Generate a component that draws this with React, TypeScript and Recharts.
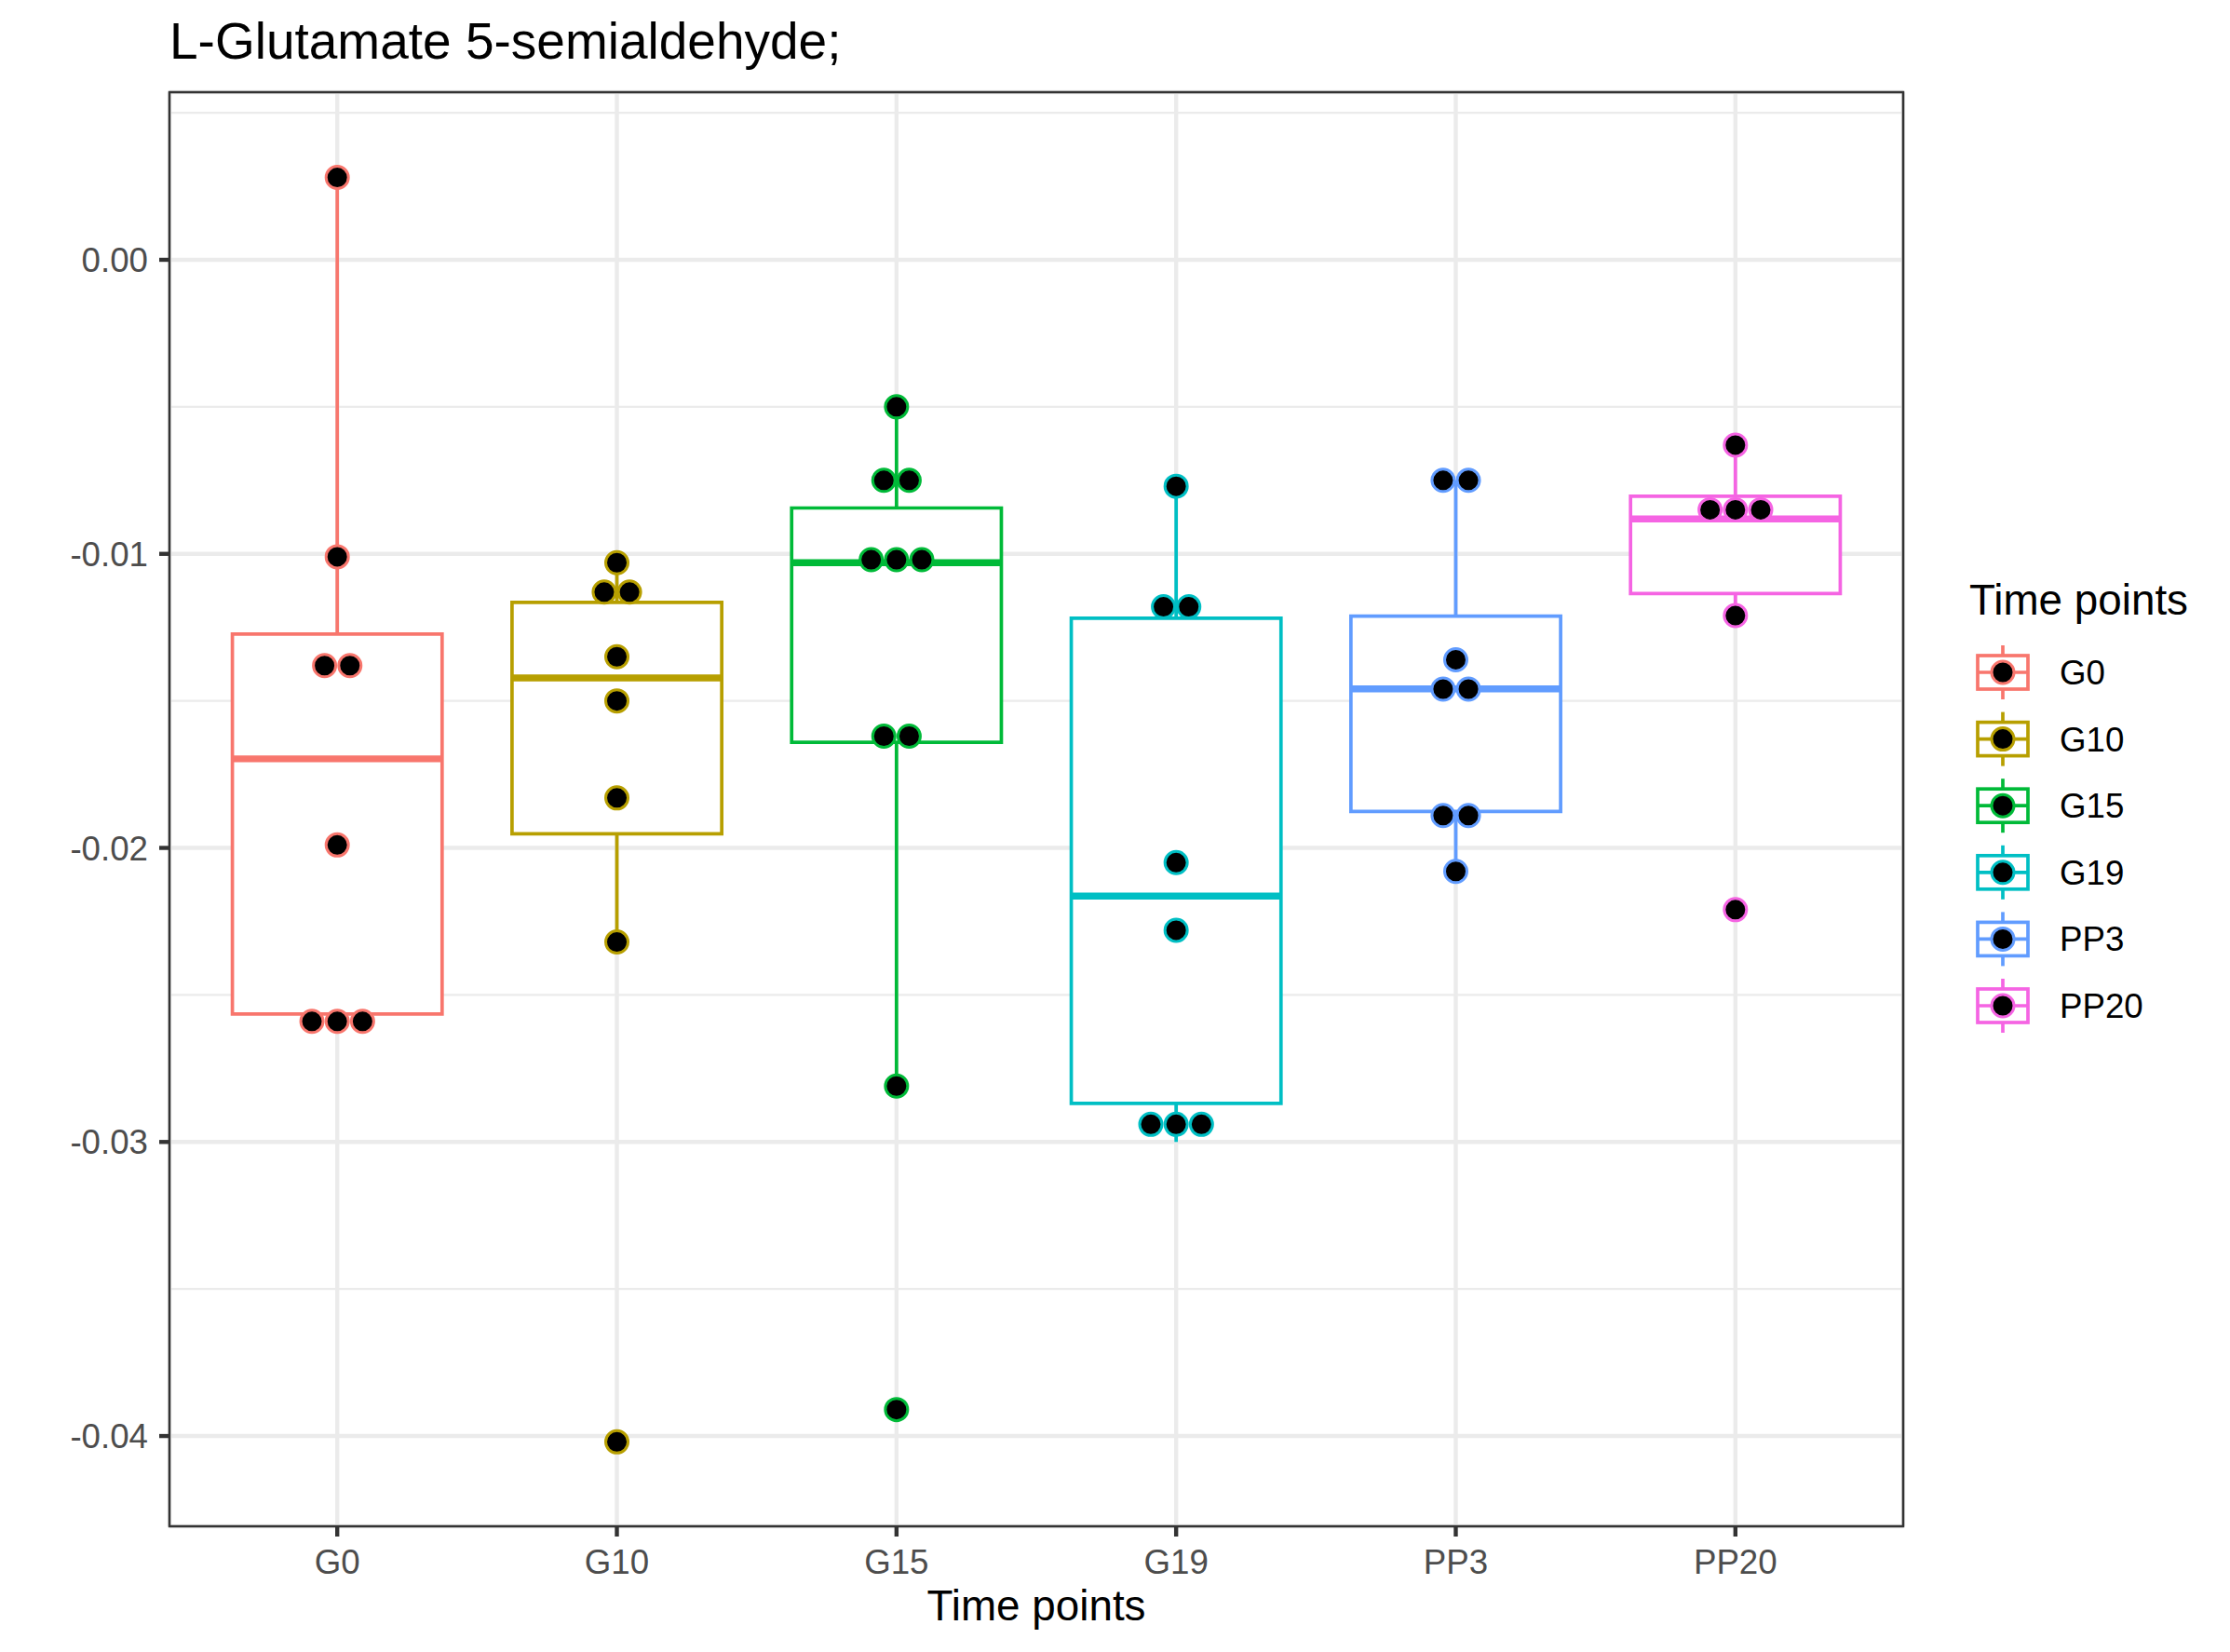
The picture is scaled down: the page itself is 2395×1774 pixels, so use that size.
import React from "react";
import {
  ScatterChart,
  Scatter,
  XAxis,
  YAxis,
  CartesianGrid,
  ReferenceArea,
  Legend,
} from "recharts";

const GROUPS = ["G0", "G10", "G15", "G19", "PP3", "PP20"];
const COLORS = ["#F8766D", "#B79F00", "#00BA38", "#00BFC4", "#619CFF", "#F564E3"];

// individual samples per time point
const G0 = [0.0028, -0.0101, -0.0138, -0.0138, -0.0199, -0.0259, -0.0259, -0.0259];
const G10 = [-0.0103, -0.0113, -0.0113, -0.0135, -0.015, -0.0183, -0.0232, -0.0402];
const G15 = [-0.005, -0.0075, -0.0075, -0.0102, -0.0102, -0.0102, -0.0162, -0.0162, -0.0281, -0.0391];
const G19 = [-0.0077, -0.0118, -0.0118, -0.0205, -0.0228, -0.0294, -0.0294, -0.0294];
const PP3 = [-0.0075, -0.0075, -0.0136, -0.0146, -0.0146, -0.0189, -0.0189, -0.0208];
const PP20 = [-0.0063, -0.0085, -0.0085, -0.0085, -0.0121, -0.0221];
const VALUES = [G0, G10, G15, G19, PP3, PP20];

// box statistics
const Q1 = [-0.02565, -0.01952, -0.01641, -0.02869, -0.01876, -0.01135];
const MEDIAN = [-0.01697, -0.01422, -0.0103, -0.02164, -0.01459, -0.00881];
const Q3 = [-0.01273, -0.01165, -0.00844, -0.01219, -0.01212, -0.00804];
const WHISKER_LO = [-0.0259, -0.0232, -0.0281, -0.03, -0.0208, -0.0121];
const WHISKER_HI = [0.0028, -0.0103, -0.005, -0.0077, -0.0075, -0.0063];

const Y_TICKS = [-0.04, -0.03, -0.02, -0.01, 0];
const Y_MINOR = [-0.035, -0.025, -0.015, -0.005, 0.005];
const Y_DOMAIN: [number, number] = [-0.04307, 0.0057];
const X_TICKS = [1, 2, 3, 4, 5, 6];
const X_DOMAIN: [number, number] = [0.4, 6.6];

const FONT = "'Liberation Sans', Arial, Helvetica, sans-serif";
const BOX_HALF = 0.375;
const DOT_STEP = 0.0905;
const LW = 3.7;

const noShape = () => <g />;

const stackDots = (vals: number[], center: number) => {
  const total: Record<string, number> = {};
  const seen: Record<string, number> = {};
  vals.forEach((v) => (total[v] = (total[v] || 0) + 1));
  return vals.map((v) => {
    const k = seen[v] || 0;
    seen[v] = k + 1;
    return { x: center + (k - (total[v] - 1) / 2) * DOT_STEP, y: v };
  });
};

const makeDot = (color: string) => (props: any) => (
  <circle cx={props.cx} cy={props.cy} r={12} fill="#000" stroke={color} strokeWidth={3} />
);

const LegendBox = () => (
  <svg width={280} height={520} style={{ fontFamily: FONT, overflow: "visible" }}>
    <text x={0} y={59.7} fontSize={45.8} fill="#000">Time points</text>
    {GROUPS.map((g, i) => {
      const cy = 122 + i * 71.6;
      const c = COLORS[i];
      return (
        <g key={g}>
          <line x1={36} x2={36} y1={cy - 29} y2={cy + 29} stroke={c} strokeWidth={LW} />
          <rect x={9} y={cy - 18} width={54} height={36} fill="#fff" stroke={c} strokeWidth={LW} />
          <line x1={9} x2={63} y1={cy} y2={cy} stroke={c} strokeWidth={LW} />
          <circle cx={36} cy={cy} r={12} fill="#000" stroke={c} strokeWidth={3} />
          <text x={97} y={cy + 13} fontSize={36.7} fill="#000">{g}</text>
        </g>
      );
    })}
  </svg>
);

export default function App() {
  return (
    <div style={{ position: "absolute", left: 0, top: 0, width: 2395, height: 1774, background: "#fff", fontFamily: FONT }}>
      <div style={{ position: "absolute", left: 182, top: 16.7, fontSize: 55, lineHeight: "55px", color: "#000", whiteSpace: "nowrap" }}>
        L-Glutamate 5-semialdehyde;
      </div>
      <ScatterChart width={2395} height={1774} margin={{ top: 99, right: 351, bottom: 0, left: 0 }}>
        <CartesianGrid
          horizontalValues={Y_MINOR}
          vertical={false}
          stroke="#EBEBEB"
          strokeWidth={2.2}
        />
        <CartesianGrid stroke="#EBEBEB" strokeWidth={4.4} />
        <XAxis
          type="number"
          dataKey="x"
          domain={X_DOMAIN}
          ticks={X_TICKS}
          allowDataOverflow
          interval={0}
          tickFormatter={(v: number) => GROUPS[v - 1]}
          height={135}
          axisLine={false}
          tickSize={11}
          tickMargin={14}
          tickLine={{ stroke: "#333333", strokeWidth: 4.4 }}
          tick={{ fill: "#4D4D4D", fontSize: 36.7, fontFamily: FONT }}
        />
        <YAxis
          type="number"
          dataKey="y"
          domain={Y_DOMAIN}
          ticks={Y_TICKS}
          allowDataOverflow
          interval={0}
          tickFormatter={(v: number) => v.toFixed(2)}
          width={182}
          axisLine={false}
          tickSize={11}
          tickMargin={12}
          tickLine={{ stroke: "#333333", strokeWidth: 4.4 }}
          tick={{ fill: "#4D4D4D", fontSize: 36.7, fontFamily: FONT }}
        />
        {GROUPS.map((g, i) => {
          const c = i + 1;
          const col = COLORS[i];
          return (
            <React.Fragment key={g}>
              <Scatter
                data={[{ x: c, y: Q3[i] }, { x: c, y: WHISKER_HI[i] }]}
                shape={noShape}
                line={{ stroke: col, strokeWidth: LW, fill: "none" }}
                legendType="none"
                isAnimationActive={false}
              />
              <Scatter
                data={[{ x: c, y: Q1[i] }, { x: c, y: WHISKER_LO[i] }]}
                shape={noShape}
                line={{ stroke: col, strokeWidth: LW, fill: "none" }}
                legendType="none"
                isAnimationActive={false}
              />
              <Scatter
                data={[
                  { x: c - BOX_HALF, y: Q1[i] },
                  { x: c + BOX_HALF, y: Q1[i] },
                  { x: c + BOX_HALF, y: Q3[i] },
                  { x: c - BOX_HALF, y: Q3[i] },
                  { x: c - BOX_HALF, y: Q1[i] },
                ]}
                shape={noShape}
                line={{ stroke: col, strokeWidth: LW, fill: "#fff", strokeLinecap: "square", strokeLinejoin: "miter" }}
                legendType="none"
                isAnimationActive={false}
              />
              <Scatter
                data={[{ x: c - BOX_HALF, y: MEDIAN[i] }, { x: c + BOX_HALF, y: MEDIAN[i] }]}
                shape={noShape}
                line={{ stroke: col, strokeWidth: LW * 2, fill: "none" }}
                legendType="none"
                isAnimationActive={false}
              />
            </React.Fragment>
          );
        })}
        {GROUPS.map((g, i) => (
          <Scatter
            key={"dots-" + g}
            name={g}
            data={stackDots(VALUES[i], i + 1)}
            shape={makeDot(COLORS[i])}
            legendType="none"
            isAnimationActive={false}
          />
        ))}
        <ReferenceArea
          x1={X_DOMAIN[0]}
          x2={X_DOMAIN[1]}
          y1={Y_DOMAIN[0]}
          y2={Y_DOMAIN[1]}
          fill="none"
          fillOpacity={0}
          stroke="#333333"
          strokeWidth={2.5}
        />
        <Legend
          layout="vertical"
          align="center"
          verticalAlign="middle"
          wrapperStyle={{ left: 2115, top: 600, width: 280 }}
          content={() => <LegendBox />}
        />
      </ScatterChart>
      <div style={{ position: "absolute", left: 613, width: 1000, top: 1701.7, fontSize: 45.8, lineHeight: "45.8px", textAlign: "center", color: "#000" }}>
        Time points
      </div>
    </div>
  );
}
